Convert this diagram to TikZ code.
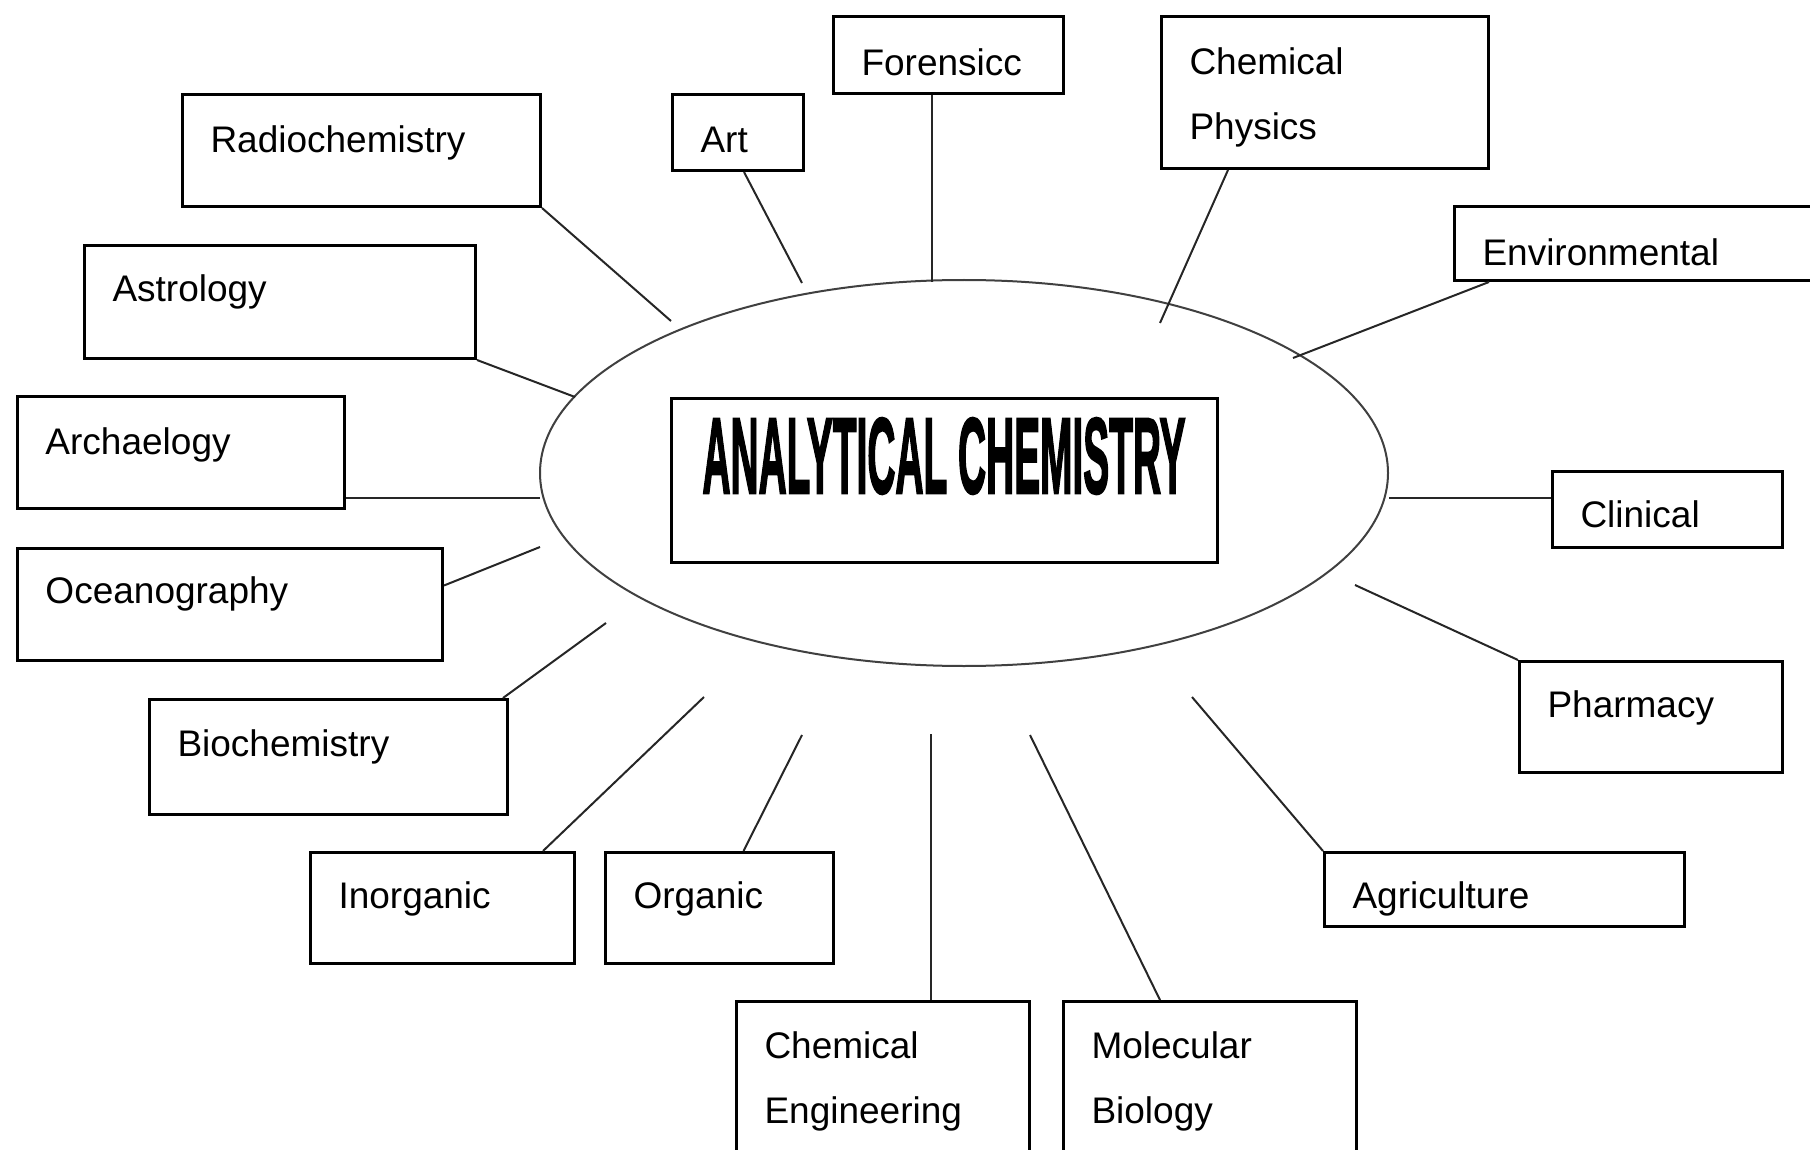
\documentclass[tikz,border=0pt]{standalone}
\usepackage{fontspec}
\setmainfont{Liberation Sans}
\newfontfamily\wordart[FakeBold=2.5]{Liberation Sans}
\usepackage{graphicx}
\usetikzlibrary{shapes.geometric,calc}

\begin{document}
\begin{tikzpicture}[x=0.5pt, y=-0.5pt,
        field/.style={rectangle, draw, line width=1.5pt, anchor=north west, align=left, inner xsep=14pt, inner ysep=0pt, font=\fontsize{18.5}{32.5}\selectfont},
        hub/.style={ellipse, draw=black!75, line width=1pt, inner sep=0pt, minimum width=424pt, minimum height=193pt},
        banner/.style={rectangle, draw, line width=1.5pt, inner sep=0pt, minimum width=273pt, text height=47.5pt, text depth=34.5pt},
        link/.style={draw=black!85, line width=1pt}]

    \useasboundingbox (0,0) rectangle (1810,1150);

    % centre
    \node [hub] (core) at (964,473) {};
    \node [banner] (title) at (944,480) {\resizebox{241.5pt}{37.5pt}{\wordart\bfseries ANALYTICAL CHEMISTRY}};

    % fields around it
    \node [field, text width=151pt, text height=29pt, text depth=27pt] (radio) at (181,93) {Radiochemistry};
    \node [field, text width=37.5pt, text height=29pt, text depth=9pt] (art) at (671,93) {Art};
    \node [field, text width=87pt, text height=29.5pt, text depth=9pt] (foren) at (832,15) {Forensicc};
    \node [field, text width=135.5pt, text height=29pt, text depth=47pt] (chphys) at (1160,15) {Chemical\\Physics};
    \node [field, text width=165.5pt, text height=29.5pt, text depth=7.5pt] (env) at (1453,205) {Environmental};
    \node [field, text width=167.5pt, text height=28pt, text depth=28.5pt] (astro) at (83,244) {Astrology};
    \node [field, text width=135.5pt, text height=29pt, text depth=27pt] (arch) at (16,395) {Archaelogy};
    \node [field, text width=184.5pt, text height=27.5pt, text depth=28.5pt] (ocean) at (16,547) {Oceanography};
    \node [field, text width=151pt, text height=28.5pt, text depth=29pt] (bio) at (148,698) {Biochemistry};
    \node [field, text width=104pt, text height=28pt, text depth=27.5pt] (inorg) at (309,851) {Inorganic};
    \node [field, text width=86pt, text height=28pt, text depth=27.5pt] (org) at (604,851) {Organic};
    \node [field, text width=118.5pt, text height=28.5pt, text depth=59pt] (cheng) at (735,1000) {Chemical\\Engineering};
    \node [field, text width=118.5pt, text height=28.5pt, text depth=59pt] (molbio) at (1062,1000) {Molecular\\Biology};
    \node [field, text width=152pt, text height=28pt, text depth=9pt] (agri) at (1323,851) {Agriculture};
    \node [field, text width=103.5pt, text height=28pt, text depth=27.5pt] (pharm) at (1518,660) {Pharmacy};
    \node [field, text width=87pt, text height=28pt, text depth=10pt] (clin) at (1551,470) {Clinical};

    % loose ends near the ellipse
    \coordinate (e-radio) at (671,321);
    \coordinate (e-art) at (802,283);
    \coordinate (e-foren) at (930,282);
    \coordinate (e-chphys) at (1160,323);
    \coordinate (e-env) at (1293,358);
    \coordinate (e-astro) at (575,397);
    \coordinate (e-arch) at (540,497);
    \coordinate (e-ocean) at (540,547);
    \coordinate (e-bio) at (606,623);
    \coordinate (e-inorg) at (704,697);
    \coordinate (e-org) at (802,735);
    \coordinate (e-cheng) at (930,734);
    \coordinate (e-molbio) at (1030,735);
    \coordinate (e-agri) at (1192,697);
    \coordinate (e-pharm) at (1355,585);
    \coordinate (e-clin) at (1389,497);

    \draw [link] (radio.south east) -- (e-radio);
    \draw [link] ($(art.south)+(6,0)$) -- (e-art);
    \draw [link] ($(foren.south)+(-17,0)$) coordinate (s-foren) -- (s-foren |- e-foren);
    \draw [link] ($(chphys.south)+(-97,0)$) -- (e-chphys);
    \draw [link] ($(env.south west)+(36,0)$) -- (e-env);
    \draw [link] (astro.south east) -- (e-astro);
    \draw [link] ($(arch.south east)+(0,-12)$) coordinate (s-arch) -- (s-arch -| e-arch);
    \draw [link] ($(ocean.east)+(0,-19)$) -- (e-ocean);
    \draw [link] ($(bio.north east)+(-6,0)$) -- (e-bio);
    \draw [link] ($(inorg.north east)+(-33,0)$) -- (e-inorg);
    \draw [link] ($(org.north)+(24,0)$) -- (e-org);
    \draw [link] ($(cheng.north)+(48,0)$) coordinate (s-cheng) -- (s-cheng |- e-cheng);
    \draw [link] ($(molbio.north)+(-50,0)$) -- (e-molbio);
    \draw [link] (agri.north west) -- (e-agri);
    \draw [link] (pharm.north west) -- (e-pharm);
    \draw [link] ($(clin.west)+(0,-12)$) coordinate (s-clin) -- (s-clin -| e-clin);
\end{tikzpicture}
\end{document}
